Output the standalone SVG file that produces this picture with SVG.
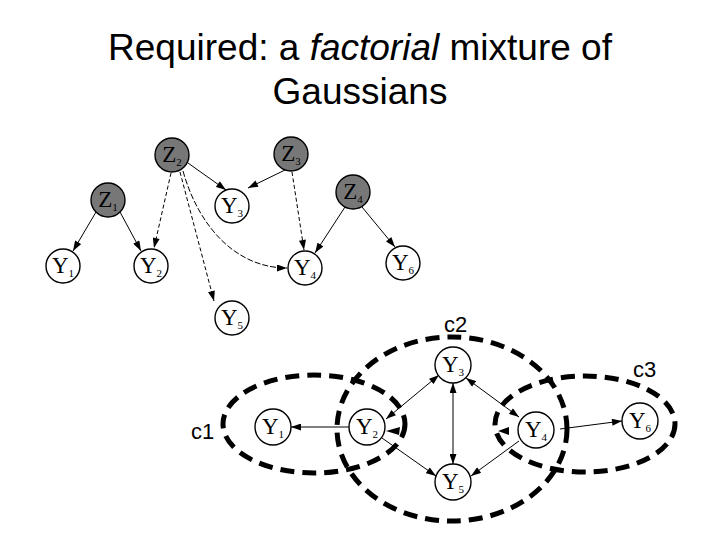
<svg xmlns="http://www.w3.org/2000/svg" width="720" height="540" viewBox="0 0 720 540">
<style>
.title{font-family:"Liberation Sans",Arial,sans-serif;font-size:37px;fill:#000}
.clab{font-family:"Liberation Sans",Arial,sans-serif;font-size:22px;fill:#000}
.node{fill:#fff;stroke:#000;stroke-width:1.4}
.hid{fill:#777;stroke:#000;stroke-width:1.4}
.lab{font-family:"Liberation Serif","Times New Roman",serif;font-size:23px;fill:#000}
.sub{font-size:11px}
.e{fill:none;stroke:#000;stroke-width:1}
.d{stroke-dasharray:4 2.5}
.cl{fill:none;stroke:#000;stroke-width:5;stroke-dasharray:14 8}
</style>
<defs>
<marker id="a" viewBox="0 0 10 7" refX="10" refY="3.5" markerWidth="11" markerHeight="7" markerUnits="userSpaceOnUse" orient="auto">
<path d="M0,0 L10,3.5 L0,7 z" fill="#000"/>
</marker>
<marker id="as" viewBox="0 0 10 7" refX="10" refY="3.5" markerWidth="11" markerHeight="7" markerUnits="userSpaceOnUse" orient="auto-start-reverse">
<path d="M0,0 L10,3.5 L0,7 z" fill="#000"/>
</marker>
</defs>
<rect width="720" height="540" fill="#fff"/>
<g id="title">
<text class="title" x="360" y="60" text-anchor="middle">Required: a <tspan font-style="italic">factorial</tspan> mixture of</text>
<text class="title" x="360" y="104" text-anchor="middle">Gaussians</text>
</g>
<g id="clusters">
<ellipse class="cl" cx="314" cy="424" rx="91" ry="49"/>
<ellipse class="cl" cx="452" cy="429" rx="115" ry="92"/>
<ellipse class="cl" cx="585" cy="424" rx="90" ry="48"/>
<text class="clab" x="444" y="332">c2</text>
<text class="clab" x="633" y="377">c3</text>
<text class="clab" x="191" y="439">c1</text>
</g>
<g id="connectors">
<line class="e" x1="96" y1="212" x2="73" y2="251" marker-end="url(#a)"/>
<line class="e" x1="120" y1="212" x2="141" y2="251" marker-end="url(#a)"/>
<line class="e d" x1="171" y1="173" x2="154" y2="248" marker-end="url(#a)"/>
<line class="e" x1="188" y1="163" x2="226" y2="190" marker-end="url(#a)"/>
<line class="e d" x1="180" y1="172" x2="214" y2="301" marker-end="url(#a)"/>
<path class="e" stroke-dasharray="6 2" d="M183,171 C198,225 235,268 287,268" marker-end="url(#a)"/>
<line class="e" x1="285" y1="170" x2="248" y2="188" marker-end="url(#a)"/>
<line class="e d" x1="292" y1="172" x2="304" y2="250" marker-end="url(#a)"/>
<line class="e" x1="345" y1="207" x2="315" y2="253" marker-end="url(#a)"/>
<line class="e" x1="362" y1="207" x2="395" y2="247" marker-end="url(#a)"/>
<line class="e" x1="349" y1="427" x2="291" y2="427" marker-end="url(#a)"/>
<line class="e" x1="386" y1="419" x2="439" y2="375" marker-start="url(#as)" marker-end="url(#a)"/>
<line class="e" x1="453" y1="383" x2="453" y2="464" marker-start="url(#as)" marker-end="url(#a)"/>
<line class="e" x1="466" y1="378" x2="519" y2="417" marker-start="url(#as)" marker-end="url(#a)"/>
<line class="e" x1="382" y1="438" x2="436" y2="476" marker-end="url(#a)"/>
<line class="e" x1="519" y1="441" x2="471" y2="476" marker-end="url(#a)"/>
<line class="e" x1="560" y1="429" x2="622" y2="421" marker-end="url(#a)"/>
<path d="M386,431 L400,427 L399,435 z" fill="#000"/>
<path d="M498,431 L509,427 L509,435 z" fill="#000"/>
</g>
<g id="Z1"><circle class="hid" cx="108" cy="200" r="17"/><text class="lab" x="108" y="207" text-anchor="middle">Z<tspan class="sub" dy="4">1</tspan></text></g>
<g id="Z2"><circle class="hid" cx="172" cy="155" r="17"/><text class="lab" x="172" y="162" text-anchor="middle">Z<tspan class="sub" dy="4">2</tspan></text></g>
<g id="Z3"><circle class="hid" cx="291" cy="154" r="17"/><text class="lab" x="291" y="161" text-anchor="middle">Z<tspan class="sub" dy="4">3</tspan></text></g>
<g id="Z4"><circle class="hid" cx="353" cy="192" r="17"/><text class="lab" x="353" y="199" text-anchor="middle">Z<tspan class="sub" dy="4">4</tspan></text></g>
<g id="tY1"><circle class="node" cx="63" cy="266" r="17"/><text class="lab" x="63" y="273" text-anchor="middle">Y<tspan class="sub" dy="4">1</tspan></text></g>
<g id="tY2"><circle class="node" cx="151" cy="266" r="17"/><text class="lab" x="151" y="273" text-anchor="middle">Y<tspan class="sub" dy="4">2</tspan></text></g>
<g id="tY3"><circle class="node" cx="232" cy="206" r="17"/><text class="lab" x="232" y="213" text-anchor="middle">Y<tspan class="sub" dy="4">3</tspan></text></g>
<g id="tY4"><circle class="node" cx="305" cy="268" r="17"/><text class="lab" x="305" y="275" text-anchor="middle">Y<tspan class="sub" dy="4">4</tspan></text></g>
<g id="tY5"><circle class="node" cx="232" cy="318" r="17"/><text class="lab" x="232" y="325" text-anchor="middle">Y<tspan class="sub" dy="4">5</tspan></text></g>
<g id="tY6"><circle class="node" cx="403" cy="263" r="17"/><text class="lab" x="403" y="270" text-anchor="middle">Y<tspan class="sub" dy="4">6</tspan></text></g>
<g id="bY1"><circle class="node" cx="273" cy="427" r="18"/><text class="lab" x="273" y="434" text-anchor="middle">Y<tspan class="sub" dy="4">1</tspan></text></g>
<g id="bY2"><circle class="node" cx="367" cy="427" r="18"/><text class="lab" x="367" y="434" text-anchor="middle">Y<tspan class="sub" dy="4">2</tspan></text></g>
<g id="bY3"><circle class="node" cx="453" cy="365" r="18"/><text class="lab" x="453" y="372" text-anchor="middle">Y<tspan class="sub" dy="4">3</tspan></text></g>
<g id="bY4"><circle class="node" cx="536" cy="430" r="18"/><text class="lab" x="536" y="437" text-anchor="middle">Y<tspan class="sub" dy="4">4</tspan></text></g>
<g id="bY5"><circle class="node" cx="453" cy="482" r="18"/><text class="lab" x="453" y="489" text-anchor="middle">Y<tspan class="sub" dy="4">5</tspan></text></g>
<g id="bY6"><circle class="node" cx="640" cy="421" r="18"/><text class="lab" x="640" y="428" text-anchor="middle">Y<tspan class="sub" dy="4">6</tspan></text></g>
</svg>
